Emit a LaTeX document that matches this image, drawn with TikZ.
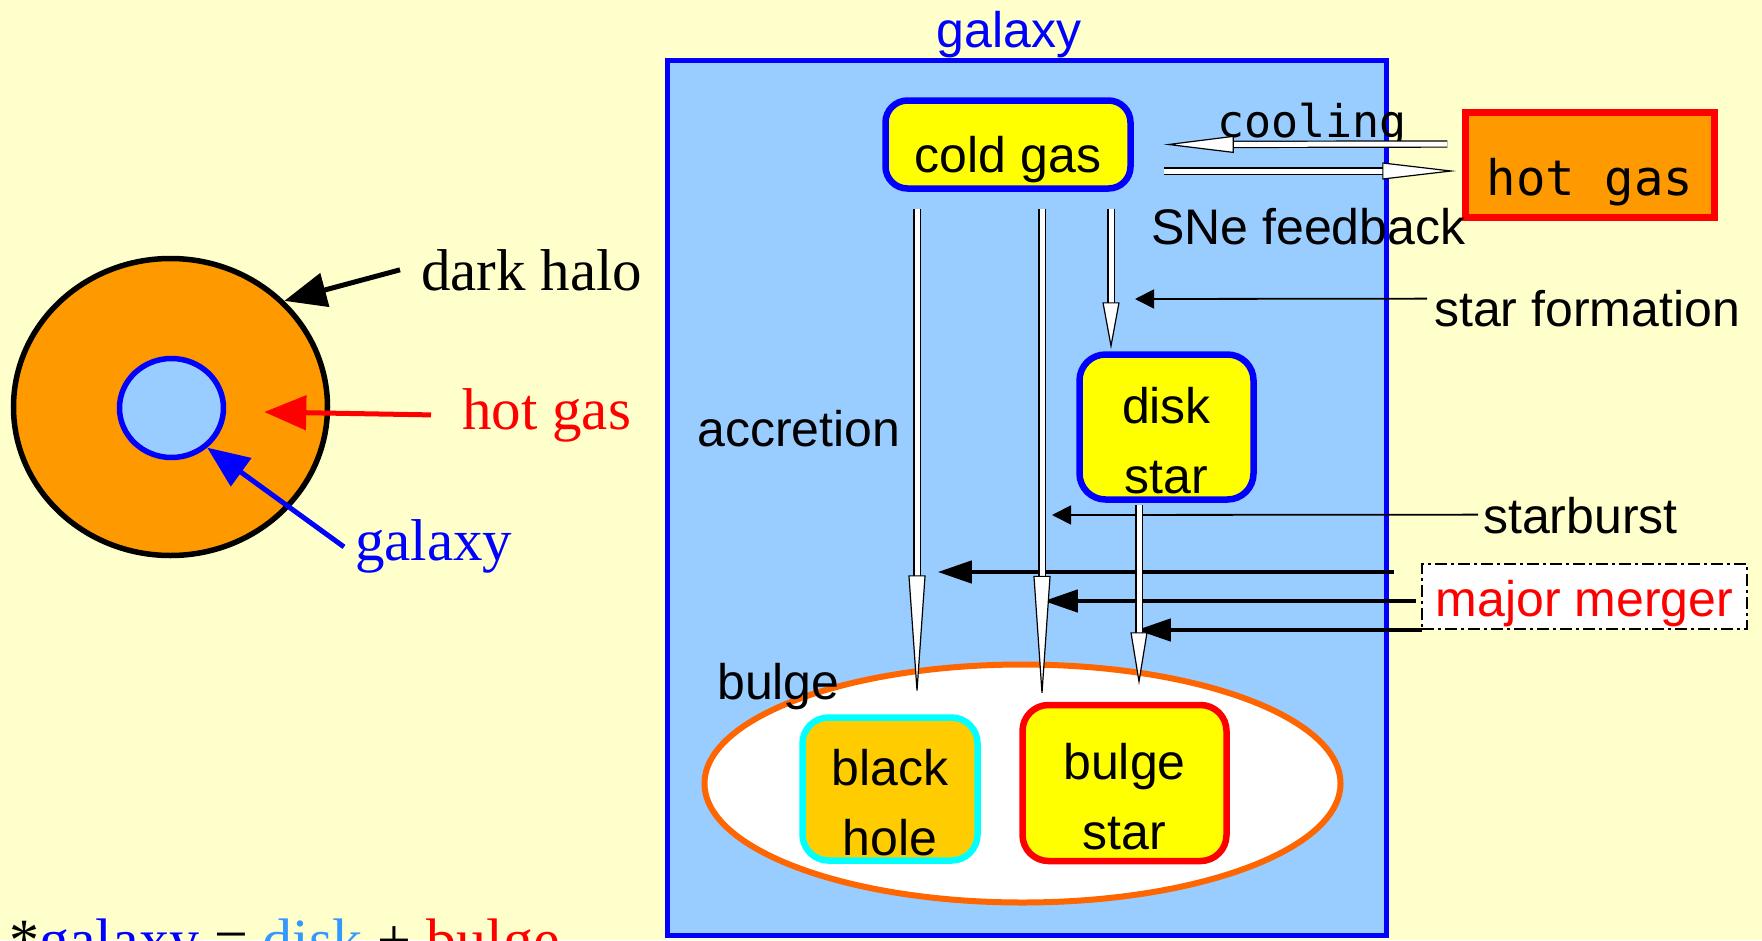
\documentclass[tikz,border=0pt]{standalone}
\usepackage{fontspec}
\setmainfont{Liberation Sans}
\newfontfamily\timesfont{Liberation Serif}
\newfontfamily\monofont{DejaVu Sans Mono}
\usepackage{tikz}
\usetikzlibrary{shapes.geometric}
\usetikzlibrary{calc}
\usetikzlibrary{arrows.meta}
\definecolor{paper}{HTML}{FFFFCC}
\definecolor{skyblue}{HTML}{99CCFF}
\definecolor{hotorange}{HTML}{FF9900}
\definecolor{bhorange}{HTML}{FFCC00}
\definecolor{rimorange}{HTML}{FF6600}
\definecolor{diskblue}{HTML}{3399FF}
\definecolor{boxyellow}{HTML}{FFFF00}
\definecolor{rimcyan}{HTML}{00FFFF}
\tikzset{bigfont/.style={font=\fontsize{50}{70}\selectfont},
lbl/.style={inner sep=0pt, anchor=base west},
seriflbl/.style={lbl, font=\timesfont\fontsize{59}{70}\selectfont},
monolbl/.style={font=\monofont\fontsize{49}{60}\selectfont},
onebox/.style={bigfont, rounded corners=22pt, line width=6.5pt, text height=56pt, text depth=0pt},
twobox/.style={bigfont, align=center, rounded corners=26pt, line width=6.5pt, text height=132pt, text depth=0pt},
flow/.style={draw=black, line width=1.2pt, double=white, double distance=5pt, -{Triangle[length=#1, width=17pt, fill=white]}},
thinarrow/.style={line width=1.8pt, -{Triangle[length=19pt, width=19pt]}},
mergearrow/.style={line width=4.5pt, -{Triangle[length=34pt, width=22pt]}},
haloarrow/.style={line width=5pt, -{Triangle[length=42pt, width=34pt]}}}
\begin{document}
\begin{tikzpicture}[x=1pt, y=-1pt]
\useasboundingbox (0,0) rectangle (1762,940);
\fill[paper] (0,0) rectangle (1762,940);

\node (halo) at (170.5,407) [ellipse, draw=black, line width=5.5pt, fill=hotorange, minimum width=314pt, minimum height=297pt] {};
\node (core) at (171.5,408) [ellipse, draw=blue, line width=5.5pt, fill=skyblue, minimum width=104pt, minimum height=99pt] {};
\node (halolbl) at (421,290) [seriflbl] {dark halo};
\node (hotlbl) at (462,429) [seriflbl, text=red] {hot gas};
\node (gallbl) at (355,560) [seriflbl, text=blue] {galaxy};
\draw[haloarrow] ($(halolbl.west)+(-21,0)$) -- (halo.43);
\coordinate (hottip) at ($(core.east)+(38,4)$);
\draw[haloarrow, red] ($(hotlbl.west)+(-31,0)$) -- (hottip);
\draw[haloarrow, blue] ($(gallbl.west)+(-11,1)$) -- (core.-48);
\node (sumline) at (9,960) [seriflbl, font=\timesfont\fontsize{60}{70}\selectfont] {*\textcolor{blue}{galaxy} = \textcolor{diskblue}{disk} + \textcolor{red}{bulge}};

\node (galaxy) at (1027,498) [draw=blue, line width=5.5pt, fill=skyblue, minimum width=719pt, minimum height=875pt] {};
\node (galaxytitle) at (1009,47) [bigfont, text=blue, anchor=base] {galaxy};
\node (bulge) at (1022.5,783.5) [ellipse, draw=rimorange, line width=6pt, fill=white, minimum width=636pt, minimum height=238pt] {};
\node (bulgelbl) at (717,699) [bigfont, lbl] {bulge};
\node (coldgas) at (1008,144.5) [onebox, draw=blue, fill=boxyellow, minimum width=245pt, minimum height=88pt] {cold gas};
\node (hotgas) at (1590,165) [monolbl, draw=red, line width=6.5pt, fill=hotorange, minimum width=249pt, minimum height=105pt, text height=60pt, text depth=0pt] {hot gas};
\node (diskstar) at (1166.5,427) [twobox, draw=blue, fill=boxyellow, minimum width=174pt, minimum height=145pt] {disk\\star};
\node (blackhole) at (890,789) [twobox, draw=rimcyan, fill=bhorange, minimum width=175pt, minimum height=143pt] {black\\hole};
\node (bulgestar) at (1124.5,783) [twobox, draw=red, fill=boxyellow, minimum width=204pt, minimum height=156pt] {bulge\\star};
\node (merger) at (1584.5,596.5) [bigfont, draw=black, line width=2.5pt, dash pattern=on 12pt off 4pt on 3pt off 4pt, fill=white, text=red, minimum width=325pt, minimum height=65pt, text height=40pt, text depth=0pt] {major merger};

\node (coollbl) at (1312,137) [monolbl, font=\monofont\fontsize{45}{60}\selectfont, inner sep=0pt, anchor=base] {cooling};
\node (snelbl) at (1151,244) [bigfont, lbl] {SNe feedback};
\node (sflbl) at (1434,326) [bigfont, lbl] {star formation};
\node (acclbl) at (697,446) [bigfont, lbl] {accretion};
\node (sblbl) at (1483,533) [bigfont, lbl] {starburst};

\coordinate (sftip) at (1135,299);
\coordinate (sbtip) at (1052,515);
\draw[thinarrow] ($(sflbl.west)+(-7,-9.5)$) -- (sftip);
\draw[thinarrow] ($(sblbl.west)+(-5,-0.5)$) -- (sbtip);
\foreach \i/\dx/\dy/\tx in {1/-27/-24.5/939, 2/-5/4.5/1045, 3/1/33.5/1138} {
\coordinate (mtip\i) at ($(merger.west)+(\tx-1422,\dy)$);
\draw[mergearrow] ($(merger.west)+(\dx,\dy)$) -- (mtip\i);
}

\draw[flow=70pt] ($(hotgas.west)+(-15,-21)$) -- ($(coldgas.east)+(30,0)$);
\draw[flow=74pt] ($(coldgas.east)+(30,26.5)$) -- ($(hotgas.west)+(-6,6)$);
\draw[flow=124pt] ($(coldgas.south)+(-91,17)$) -- ($(blackhole.north)+(27,-15)$);
\draw[flow=126pt] ($(coldgas.south)+(34,17)$) -- ($(bulgestar.north)+(-82.5,0)$);
\draw[flow=47pt] ($(coldgas.south)+(103,17)$) -- ($(diskstar.north)+(-55.5,-2)$);
\draw[flow=53pt] ($(diskstar.south)+(-27.5,2)$) -- ($(bulgestar.north)+(14.5,-16.5)$);
\end{tikzpicture}
\end{document}
